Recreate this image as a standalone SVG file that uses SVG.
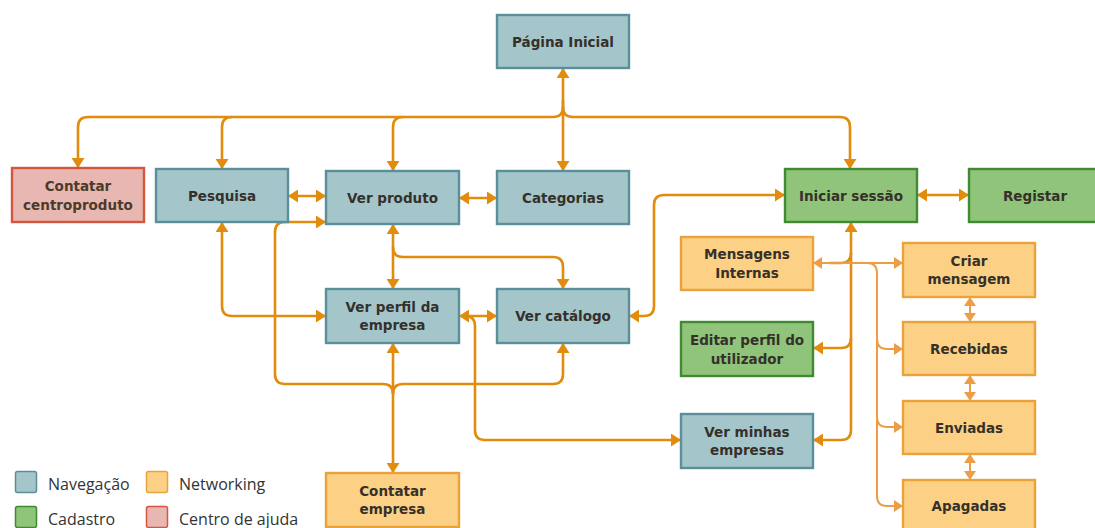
<svg xmlns="http://www.w3.org/2000/svg" width="1095" height="528" viewBox="0 0 1095 528">
  <defs>
    <style>
      .box { stroke-width: 2.4; }
      .nav { fill: #a4c6cb; stroke: #5a8f9a; }
      .cad { fill: #90c47b; stroke: #3f8b31; }
      .net { fill: #fcd185; stroke: #e9a23c; }
      .help { fill: #e9b7b1; stroke: #d3563f; }
      .lbl { font-family: "DejaVu Sans", Verdana, sans-serif; font-weight: bold; font-size: 13.5px; fill: #35302a; text-anchor: middle; }
      .leg { font-family: "Open Sans", "Noto Sans", sans-serif; font-size: 16px; fill: #333333; }
      .c { fill: none; stroke: #e28c0e; stroke-width: 2.6; }
      .n { fill: none; stroke: #ec9d45; stroke-width: 2; }
      .sw { stroke-width: 1.5; }
    </style>
    <marker id="arr" viewBox="0 0 10 13" refX="10" refY="6.5" markerWidth="10" markerHeight="13" markerUnits="userSpaceOnUse" orient="auto-start-reverse">
      <path d="M0,0 L10,6.5 L0,13 Z" fill="#e28c0e"/>
    </marker>
    <marker id="arrN" viewBox="0 0 9 12" refX="9" refY="6" markerWidth="9" markerHeight="12" markerUnits="userSpaceOnUse" orient="auto-start-reverse">
      <path d="M0,0 L9,6 L0,12 Z" fill="#ec9d45"/>
    </marker>
  </defs>

  <!-- connectors -->
  <g id="connectors">
    <!-- top bus from Página Inicial -->
    <path class="c" d="M563 68 V107 Q563 117 553 117 H88 Q78 117 78 127 V168" marker-start="url(#arr)" marker-end="url(#arr)"/>
    <path class="c" d="M563 107 Q563 117 573 117 H840 Q850 117 850 127 V169" marker-end="url(#arr)"/>
    <path class="c" d="M563 100 V171" marker-end="url(#arr)"/>
    <path class="c" d="M232 117 Q222 117 222 127 V169" marker-end="url(#arr)"/>
    <path class="c" d="M403 117 Q393 117 393 127 V171" marker-end="url(#arr)"/>

    <!-- horizontal pairs -->
    <path class="c" d="M288 196 H326" marker-start="url(#arr)" marker-end="url(#arr)"/>
    <path class="c" d="M459 198 H497" marker-start="url(#arr)" marker-end="url(#arr)"/>
    <path class="c" d="M917 195 H969" marker-start="url(#arr)" marker-end="url(#arr)"/>
    <path class="c" d="M459 316 H497" marker-start="url(#arr)" marker-end="url(#arr)"/>

    <!-- Pesquisa to Ver perfil da empresa -->
    <path class="c" d="M222 222 V306 Q222 316 232 316 H326" marker-start="url(#arr)" marker-end="url(#arr)"/>

    <!-- Ver produto to Ver perfil da empresa / Ver catálogo -->
    <path class="c" d="M393 224 V289" marker-start="url(#arr)" marker-end="url(#arr)"/>
    <path class="c" d="M393 247 Q393 257 403 257 H553 Q563 257 563 267 V289" marker-end="url(#arr)"/>

    <!-- Contatar empresa trunk -->
    <path class="c" d="M393 473 V343" marker-start="url(#arr)" marker-end="url(#arr)"/>
    <path class="c" d="M393 394 Q393 384 383 384 H285 Q275 384 275 374 V232 Q275 222 285 222 H326" marker-end="url(#arr)"/>
    <path class="c" d="M393 394 Q393 384 403 384 H553 Q563 384 563 374 V343" marker-end="url(#arr)"/>

    <!-- Ver perfil da empresa to Ver minhas empresas -->
    <path class="c" d="M465 316 Q475 316 475 326 V430 Q475 440 485 440 H681" marker-end="url(#arr)"/>

    <!-- Iniciar sessão to Ver catálogo -->
    <path class="c" d="M785 195 H664 Q654 195 654 205 V306 Q654 316 644 316 H629" marker-start="url(#arr)" marker-end="url(#arr)"/>

    <!-- Iniciar sessão down the right column -->
    <path class="c" d="M851 222 V430 Q851 440 841 440 H813" marker-start="url(#arr)" marker-end="url(#arr)"/>
    <path class="c" d="M851 253 Q851 263 841 263 H830"/>
    <path class="c" d="M851 338 Q851 348 841 348 H813" marker-end="url(#arr)"/>

    <!-- messaging -->
    <path class="n" d="M813 263 H903" marker-start="url(#arrN)" marker-end="url(#arrN)"/>
    <path class="n" d="M867 263 Q877 263 877 273 V496 Q877 506 887 506 H903" marker-end="url(#arrN)"/>
    <path class="n" d="M877 339 Q877 349 887 349 H903" marker-end="url(#arrN)"/>
    <path class="n" d="M877 417 Q877 427 887 427 H903" marker-end="url(#arrN)"/>
    <path class="n" d="M970 297 V322" marker-start="url(#arrN)" marker-end="url(#arrN)"/>
    <path class="n" d="M970 375 V401" marker-start="url(#arrN)" marker-end="url(#arrN)"/>
    <path class="n" d="M970 454 V480" marker-start="url(#arrN)" marker-end="url(#arrN)"/>
  </g>

  <!-- nodes -->
  <g id="pagina-inicial">
    <rect class="box nav" x="497" y="15" width="132" height="53"/>
    <text class="lbl" x="563" y="46.5">Página Inicial</text>
  </g>
  <g id="contatar-centroproduto">
    <rect class="box help" x="12" y="168" width="132" height="54"/>
    <text class="lbl" x="78" y="190.5" style="fill:#4a3b2a">Contatar</text>
    <text class="lbl" x="78" y="209.5" style="fill:#4a3b2a">centroproduto</text>
  </g>
  <g id="pesquisa">
    <rect class="box nav" x="156" y="169" width="132" height="53"/>
    <text class="lbl" x="222" y="200.5">Pesquisa</text>
  </g>
  <g id="ver-produto">
    <rect class="box nav" x="326" y="171" width="133" height="53"/>
    <text class="lbl" x="392.5" y="202.5">Ver produto</text>
  </g>
  <g id="categorias">
    <rect class="box nav" x="497" y="171" width="132" height="53"/>
    <text class="lbl" x="563" y="202.5">Categorias</text>
  </g>
  <g id="iniciar-sessao">
    <rect class="box cad" x="785" y="169" width="132" height="53"/>
    <text class="lbl" x="851" y="200.5">Iniciar sessão</text>
  </g>
  <g id="registar">
    <rect class="box cad" x="969" y="169" width="132" height="53"/>
    <text class="lbl" x="1035" y="200.5">Registar</text>
  </g>
  <g id="mensagens-internas">
    <rect class="box net" x="681" y="237" width="132" height="53"/>
    <text class="lbl" x="747" y="259">Mensagens</text>
    <text class="lbl" x="747" y="278">Internas</text>
  </g>
  <g id="criar-mensagem">
    <rect class="box net" x="903" y="243" width="132" height="54"/>
    <text class="lbl" x="969" y="266">Criar</text>
    <text class="lbl" x="969" y="284">mensagem</text>
  </g>
  <g id="editar-perfil">
    <rect class="box cad" x="681" y="322" width="132" height="54"/>
    <text class="lbl" x="747" y="344.5">Editar perfil do</text>
    <text class="lbl" x="747" y="363.5">utilizador</text>
  </g>
  <g id="recebidas">
    <rect class="box net" x="903" y="322" width="132" height="53"/>
    <text class="lbl" x="969" y="353.5">Recebidas</text>
  </g>
  <g id="ver-perfil-empresa">
    <rect class="box nav" x="326" y="289" width="133" height="54"/>
    <text class="lbl" x="392.5" y="311.5">Ver perfil da</text>
    <text class="lbl" x="392.5" y="330">empresa</text>
  </g>
  <g id="ver-catalogo">
    <rect class="box nav" x="497" y="289" width="132" height="54"/>
    <text class="lbl" x="563" y="321">Ver catálogo</text>
  </g>
  <g id="ver-minhas-empresas">
    <rect class="box nav" x="681" y="414" width="132" height="54"/>
    <text class="lbl" x="747" y="436.5">Ver minhas</text>
    <text class="lbl" x="747" y="455">empresas</text>
  </g>
  <g id="enviadas">
    <rect class="box net" x="903" y="401" width="132" height="53"/>
    <text class="lbl" x="969" y="432.5">Enviadas</text>
  </g>
  <g id="apagadas">
    <rect class="box net" x="903" y="480" width="132" height="53"/>
    <text class="lbl" x="969" y="511">Apagadas</text>
  </g>
  <g id="contatar-empresa">
    <rect class="box net" x="326" y="473" width="133" height="54"/>
    <text class="lbl" x="392.5" y="495.5">Contatar</text>
    <text class="lbl" x="392.5" y="514">empresa</text>
  </g>

  <!-- legend -->
  <g id="legend">
    <rect class="sw nav" x="15.5" y="471.5" width="21" height="21" rx="2"/>
    <text class="leg" x="48" y="490">Navegação</text>
    <rect class="sw net" x="146.5" y="471.5" width="21" height="21" rx="2"/>
    <text class="leg" x="179" y="490">Networking</text>
    <rect class="sw cad" x="15.5" y="506.5" width="21" height="21" rx="2"/>
    <text class="leg" x="48" y="525">Cadastro</text>
    <rect class="sw help" x="146.5" y="506.5" width="21" height="21" rx="2"/>
    <text class="leg" x="179" y="525">Centro de ajuda</text>
  </g>
</svg>
